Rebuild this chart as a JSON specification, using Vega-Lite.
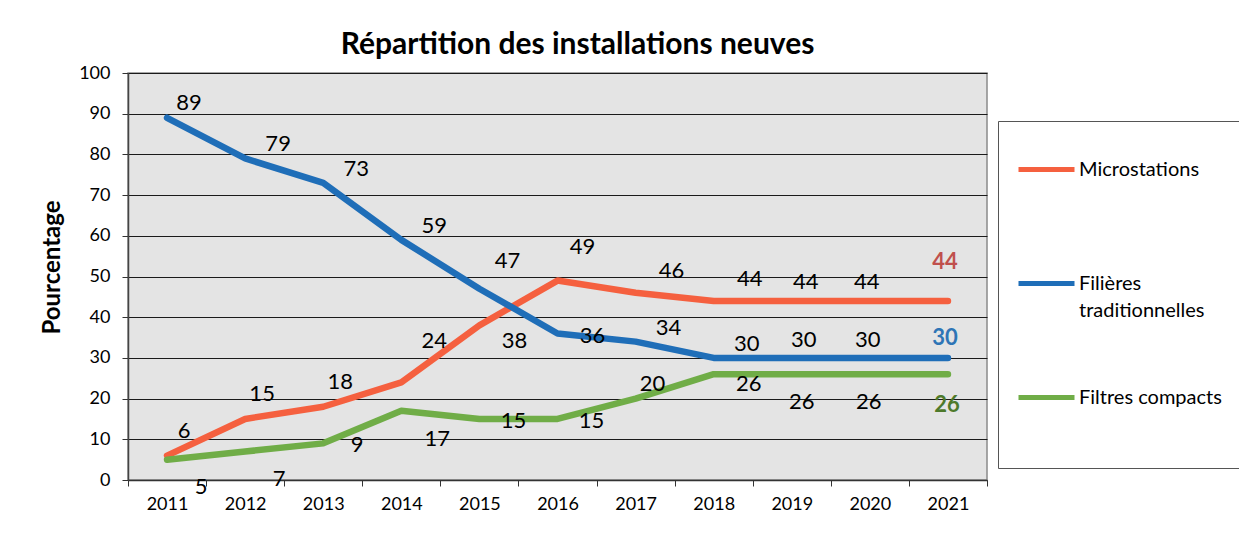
{
  "$schema": "https://vega.github.io/schema/vega-lite/v6.json",
  "autosize": "none",
  "width": 859,
  "height": 407,
  "padding": {"left": 128, "top": 73, "right": 252, "bottom": 56},
  "background": "white",
  "config": {
    "font": "Lato",
    "view": {"fill": "#E4E4E4", "stroke": "#8A8A8A", "strokeWidth": 1.5},
    "text": {"font": "Lato", "fontSize": 22, "color": "#000000"}
  },
  "title": {
    "text": "Répartition des installations neuves",
    "font": "Lato",
    "fontSize": 30,
    "fontWeight": "bold",
    "color": "#000000",
    "anchor": "middle",
    "dx": 20,
    "offset": 4
  },
  "data": {
    "values": [
      {"year": "2011", "serie": "Microstations", "value": 6},
      {"year": "2012", "serie": "Microstations", "value": 15},
      {"year": "2013", "serie": "Microstations", "value": 18},
      {"year": "2014", "serie": "Microstations", "value": 24},
      {"year": "2015", "serie": "Microstations", "value": 38},
      {"year": "2016", "serie": "Microstations", "value": 49},
      {"year": "2017", "serie": "Microstations", "value": 46},
      {"year": "2018", "serie": "Microstations", "value": 44},
      {"year": "2019", "serie": "Microstations", "value": 44},
      {"year": "2020", "serie": "Microstations", "value": 44},
      {"year": "2021", "serie": "Microstations", "value": 44},
      {"year": "2011", "serie": "Filières traditionnelles", "value": 89},
      {"year": "2012", "serie": "Filières traditionnelles", "value": 79},
      {"year": "2013", "serie": "Filières traditionnelles", "value": 73},
      {"year": "2014", "serie": "Filières traditionnelles", "value": 59},
      {"year": "2015", "serie": "Filières traditionnelles", "value": 47},
      {"year": "2016", "serie": "Filières traditionnelles", "value": 36},
      {"year": "2017", "serie": "Filières traditionnelles", "value": 34},
      {"year": "2018", "serie": "Filières traditionnelles", "value": 30},
      {"year": "2019", "serie": "Filières traditionnelles", "value": 30},
      {"year": "2020", "serie": "Filières traditionnelles", "value": 30},
      {"year": "2021", "serie": "Filières traditionnelles", "value": 30},
      {"year": "2011", "serie": "Filtres compacts", "value": 5},
      {"year": "2012", "serie": "Filtres compacts", "value": 7},
      {"year": "2013", "serie": "Filtres compacts", "value": 9},
      {"year": "2014", "serie": "Filtres compacts", "value": 17},
      {"year": "2015", "serie": "Filtres compacts", "value": 15},
      {"year": "2016", "serie": "Filtres compacts", "value": 15},
      {"year": "2017", "serie": "Filtres compacts", "value": 20},
      {"year": "2018", "serie": "Filtres compacts", "value": 26},
      {"year": "2019", "serie": "Filtres compacts", "value": 26},
      {"year": "2020", "serie": "Filtres compacts", "value": 26},
      {"year": "2021", "serie": "Filtres compacts", "value": 26}
    ]
  },
  "encoding": {
    "x": {
      "field": "year",
      "type": "ordinal",
      "scale": {"type": "band", "paddingInner": 0, "paddingOuter": 0},
      "axis": {
        "title": null,
        "labelAngle": 0,
        "labelFont": "Lato",
        "labelFontSize": 18,
        "labelColor": "#000000",
        "labelPadding": 9,
        "tickBand": "extent",
        "tickSize": 6,
        "tickColor": "#333333",
        "domainColor": "#333333",
        "domainWidth": 1.5,
        "grid": false
      }
    },
    "y": {
      "field": "value",
      "type": "quantitative",
      "scale": {"domain": [0, 100], "nice": false},
      "axis": {
        "title": "Pourcentage",
        "titleFont": "Lato",
        "titleFontSize": 24,
        "titleFontWeight": "bold",
        "titleColor": "#000000",
        "titlePadding": 14,
        "titleY": 194,
        "values": [0, 10, 20, 30, 40, 50, 60, 70, 80, 90, 100],
        "labelFont": "Lato",
        "labelFontSize": 18,
        "labelColor": "#000000",
        "labelPadding": 12,
        "tickSize": 6,
        "tickColor": "#333333",
        "domainColor": "#444444",
        "domainWidth": 1.5,
        "grid": true,
        "gridColor": "#1A1A1A",
        "gridWidth": 1
      }
    }
  },
  "layer": [
    {
      "mark": {"type": "line", "strokeWidth": 6.5, "strokeCap": "round", "strokeJoin": "round"},
      "encoding": {
        "color": {
          "field": "serie",
          "type": "nominal",
          "scale": {
            "domain": ["Microstations", "Filières traditionnelles", "Filtres compacts"],
            "range": ["#F5603F", "#1F6EB8", "#70AD47"]
          },
          "legend": {
            "title": " ",
            "titleOrient": "bottom",
            "titleFontSize": 12,
            "titlePadding": 4,
            "orient": "none",
            "legendX": 870,
            "legendY": 48,
            "padding": 18,
            "strokeColor": "#555555",
            "fillColor": "#FFFFFF",
            "symbolType": "stroke",
            "symbolSize": 3136,
            "symbolStrokeWidth": 5,
            "labelFont": "Lato",
            "labelFontSize": 20,
            "labelColor": "#000000",
            "labelOffset": 2,
            "labelLimit": 300,
            "rowPadding": 46,
            "labelExpr": "datum.label == 'Filières traditionnelles' ? ['Filières', 'traditionnelles'] : [datum.label, ' ']",
            "encode": {"labels": {"update": {"lineHeight": {"value": 27}}}}
          }
        }
      }
    },
    {
      "transform": [{"filter": "datum.serie == 'Filières traditionnelles' && datum.year == '2011'"}],
      "mark": {"type": "text", "dx": 22, "dy": -15},
      "encoding": {"text": {"field": "value"}}
    },
    {
      "transform": [{"filter": "datum.serie == 'Filières traditionnelles' && indexof(['2012','2013','2014','2017','2018'], datum.year) >= 0"}],
      "mark": {"type": "text", "dx": 33, "dy": -14},
      "encoding": {"text": {"field": "value"}}
    },
    {
      "transform": [{"filter": "datum.serie == 'Filières traditionnelles' && datum.year == '2015'"}],
      "mark": {"type": "text", "dx": 28, "dy": -28},
      "encoding": {"text": {"field": "value"}}
    },
    {
      "transform": [{"filter": "datum.serie == 'Filières traditionnelles' && datum.year == '2016'"}],
      "mark": {"type": "text", "dx": 35, "dy": 3},
      "encoding": {"text": {"field": "value"}}
    },
    {
      "transform": [{"filter": "datum.serie == 'Filières traditionnelles' && datum.year == '2019'"}],
      "mark": {"type": "text", "dx": 12, "dy": -18},
      "encoding": {"text": {"field": "value"}}
    },
    {
      "transform": [{"filter": "datum.serie == 'Filières traditionnelles' && datum.year == '2020'"}],
      "mark": {"type": "text", "dx": -2, "dy": -18},
      "encoding": {"text": {"field": "value"}}
    },
    {
      "transform": [{"filter": "datum.serie == 'Filières traditionnelles' && datum.year == '2021'"}],
      "mark": {"type": "text", "dx": -3, "dy": -20, "fontWeight": "bold", "color": "#2E75B6"},
      "encoding": {"text": {"field": "value"}}
    },
    {
      "transform": [{"filter": "datum.serie == 'Microstations' && indexof(['2011','2012','2013'], datum.year) >= 0"}],
      "mark": {"type": "text", "dx": 17, "dy": -25},
      "encoding": {"text": {"field": "value"}}
    },
    {
      "transform": [{"filter": "datum.serie == 'Microstations' && datum.year == '2014'"}],
      "mark": {"type": "text", "dx": 33, "dy": -41},
      "encoding": {"text": {"field": "value"}}
    },
    {
      "transform": [{"filter": "datum.serie == 'Microstations' && datum.year == '2015'"}],
      "mark": {"type": "text", "dx": 35, "dy": 16},
      "encoding": {"text": {"field": "value"}}
    },
    {
      "transform": [{"filter": "datum.serie == 'Microstations' && datum.year == '2016'"}],
      "mark": {"type": "text", "dx": 25, "dy": -34},
      "encoding": {"text": {"field": "value"}}
    },
    {
      "transform": [{"filter": "datum.serie == 'Microstations' && indexof(['2017','2018'], datum.year) >= 0"}],
      "mark": {"type": "text", "dx": 36, "dy": -22},
      "encoding": {"text": {"field": "value"}}
    },
    {
      "transform": [{"filter": "datum.serie == 'Microstations' && datum.year == '2019'"}],
      "mark": {"type": "text", "dx": 14, "dy": -19},
      "encoding": {"text": {"field": "value"}}
    },
    {
      "transform": [{"filter": "datum.serie == 'Microstations' && datum.year == '2020'"}],
      "mark": {"type": "text", "dx": -3, "dy": -19},
      "encoding": {"text": {"field": "value"}}
    },
    {
      "transform": [{"filter": "datum.serie == 'Microstations' && datum.year == '2021'"}],
      "mark": {"type": "text", "dx": -3, "dy": -39, "fontWeight": "bold", "color": "#C0504D"},
      "encoding": {"text": {"field": "value"}}
    },
    {
      "transform": [{"filter": "datum.serie == 'Filtres compacts' && indexof(['2011','2012'], datum.year) >= 0"}],
      "mark": {"type": "text", "dx": 34, "dy": 27},
      "encoding": {"text": {"field": "value"}}
    },
    {
      "transform": [{"filter": "datum.serie == 'Filtres compacts' && indexof(['2013','2015','2016'], datum.year) >= 0"}],
      "mark": {"type": "text", "dx": 34, "dy": 2},
      "encoding": {"text": {"field": "value"}}
    },
    {
      "transform": [{"filter": "datum.serie == 'Filtres compacts' && datum.year == '2014'"}],
      "mark": {"type": "text", "dx": 36, "dy": 28},
      "encoding": {"text": {"field": "value"}}
    },
    {
      "transform": [{"filter": "datum.serie == 'Filtres compacts' && datum.year == '2017'"}],
      "mark": {"type": "text", "dx": 17, "dy": -15},
      "encoding": {"text": {"field": "value"}}
    },
    {
      "transform": [{"filter": "datum.serie == 'Filtres compacts' && datum.year == '2018'"}],
      "mark": {"type": "text", "dx": 35, "dy": 10},
      "encoding": {"text": {"field": "value"}}
    },
    {
      "transform": [{"filter": "datum.serie == 'Filtres compacts' && datum.year == '2019'"}],
      "mark": {"type": "text", "dx": 10, "dy": 28},
      "encoding": {"text": {"field": "value"}}
    },
    {
      "transform": [{"filter": "datum.serie == 'Filtres compacts' && datum.year == '2020'"}],
      "mark": {"type": "text", "dx": -1, "dy": 28},
      "encoding": {"text": {"field": "value"}}
    },
    {
      "transform": [{"filter": "datum.serie == 'Filtres compacts' && datum.year == '2021'"}],
      "mark": {"type": "text", "dx": -1, "dy": 31, "fontWeight": "bold", "color": "#4E7A2B"},
      "encoding": {"text": {"field": "value"}}
    }
  ]
}
